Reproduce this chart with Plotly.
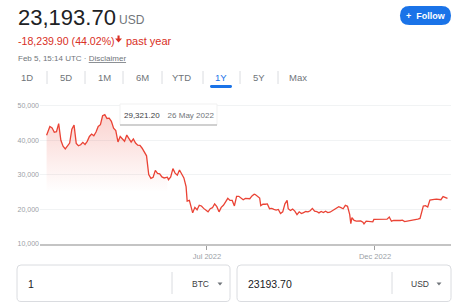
import plotly.graph_objects as go
from datetime import datetime

# ---------------- data ----------------
dates = [
    "2022-02-05", "2022-02-06", "2022-02-08", "2022-02-10", "2022-02-12", "2022-02-14", "2022-02-16",
    "2022-02-18", "2022-02-20", "2022-02-22", "2022-02-24", "2022-02-26", "2022-02-28", "2022-03-02",
    "2022-03-04", "2022-03-06", "2022-03-08", "2022-03-10", "2022-03-12", "2022-03-14", "2022-03-16",
    "2022-03-18", "2022-03-20", "2022-03-22", "2022-03-24", "2022-03-26", "2022-03-28", "2022-03-30",
    "2022-04-01", "2022-04-03", "2022-04-05", "2022-04-07", "2022-04-09", "2022-04-11", "2022-04-13",
    "2022-04-15", "2022-04-17", "2022-04-19", "2022-04-21", "2022-04-23", "2022-04-25", "2022-04-27",
    "2022-04-29", "2022-05-01", "2022-05-03", "2022-05-05", "2022-05-07", "2022-05-09", "2022-05-11",
    "2022-05-13", "2022-05-15", "2022-05-17", "2022-05-19", "2022-05-21", "2022-05-23", "2022-05-26",
    "2022-05-27", "2022-05-29", "2022-05-31", "2022-06-02", "2022-06-04", "2022-06-06", "2022-06-08",
    "2022-06-10", "2022-06-12", "2022-06-13", "2022-06-15", "2022-06-18", "2022-06-20", "2022-06-22",
    "2022-06-24", "2022-06-26", "2022-06-28", "2022-06-30", "2022-07-02", "2022-07-04", "2022-07-06",
    "2022-07-08", "2022-07-10", "2022-07-12", "2022-07-14", "2022-07-16", "2022-07-18", "2022-07-20",
    "2022-07-22", "2022-07-24", "2022-07-26", "2022-07-28", "2022-07-30", "2022-08-01", "2022-08-03",
    "2022-08-05", "2022-08-07", "2022-08-09", "2022-08-11", "2022-08-13", "2022-08-14", "2022-08-16",
    "2022-08-18", "2022-08-19", "2022-08-21", "2022-08-23", "2022-08-25", "2022-08-27", "2022-08-29",
    "2022-08-31", "2022-09-02", "2022-09-04", "2022-09-06", "2022-09-08", "2022-09-10", "2022-09-12",
    "2022-09-13", "2022-09-15", "2022-09-17", "2022-09-19", "2022-09-21", "2022-09-23", "2022-09-25",
    "2022-09-27", "2022-09-29", "2022-10-01", "2022-10-03", "2022-10-05", "2022-10-07", "2022-10-09",
    "2022-10-11", "2022-10-13", "2022-10-15", "2022-10-17", "2022-10-19", "2022-10-21", "2022-10-23",
    "2022-10-25", "2022-10-27", "2022-10-29", "2022-10-31", "2022-11-02", "2022-11-04", "2022-11-06",
    "2022-11-08", "2022-11-09", "2022-11-10", "2022-11-12", "2022-11-14", "2022-11-16", "2022-11-18",
    "2022-11-20", "2022-11-21", "2022-11-23", "2022-11-25", "2022-11-27", "2022-11-29", "2022-11-30",
    "2022-12-02", "2022-12-04", "2022-12-06", "2022-12-08", "2022-12-10", "2022-12-12", "2022-12-14",
    "2022-12-16", "2022-12-18", "2022-12-20", "2022-12-22", "2022-12-24", "2022-12-26", "2022-12-28",
    "2022-12-30", "2023-01-01", "2023-01-03", "2023-01-05", "2023-01-07", "2023-01-09", "2023-01-11",
    "2023-01-12", "2023-01-14", "2023-01-16", "2023-01-18", "2023-01-20", "2023-01-22", "2023-01-24",
    "2023-01-26", "2023-01-28", "2023-01-30", "2023-02-01", "2023-02-03", "2023-02-05",
]
prices = [
    41433.6, 42400, 44000, 43600, 42300, 42500, 44800,
    40000, 38300, 37500, 38300, 39200, 43200, 44400,
    39100, 38400, 38700, 39400, 38800, 39700, 41100,
    41800, 41300, 42400, 44000, 44500, 47100, 47400,
    46300, 46400, 45500, 43500, 42800, 39500, 41100,
    40500, 39700, 41500, 40500, 39500, 40400, 39200,
    38600, 38500, 37700, 36500, 35500, 30100, 29000,
    29300, 31300, 30400, 30300, 29400, 29100, 29321.2,
    28600, 29400, 31800, 30500, 29900, 31400, 30200,
    29100, 26600, 22400, 22600, 19000, 20600, 19900,
    21200, 21000, 20300, 19800, 19300, 20200, 20500,
    21600, 20800, 19300, 20600, 21200, 22400, 23200,
    22600, 22600, 21000, 23800, 23800, 23300, 22800,
    23200, 23200, 23100, 23900, 24400, 24300, 23900,
    23300, 21100, 21500, 21500, 21600, 20200, 20300,
    20000, 19800, 20000, 18800, 19300, 21600, 22600,
    20200, 19700, 20100, 19500, 18500, 19300, 18800,
    19100, 19400, 19300, 19600, 20300, 19500, 19400,
    19000, 19400, 19100, 19500, 19100, 19200, 19600,
    20100, 20300, 20800, 20500, 20200, 21200, 20900,
    18500, 15900, 17600, 16800, 16600, 16700, 16700,
    16300, 15800, 16600, 16500, 16500, 16400, 17100,
    17100, 17100, 17100, 17200, 17100, 17200, 17800,
    16600, 16800, 16900, 16800, 16800, 16900, 16500,
    16600, 16600, 16700, 16800, 16900, 17200, 17400,
    18800, 21000, 21100, 20700, 22700, 22700, 22900,
    23000, 23000, 22800, 23700, 23400, 23193.7,
]
y_ticks = [10000, 20000, 30000, 40000, 50000]
y_tick_labels = ["10,000", "20,000", "30,000", "40,000", "50,000"]
x_ticks = ["2022-07-01", "2022-12-01"]
x_tick_labels = ["Jul 2022", "Dec 2022"]
range_tabs = ["1D", "5D", "1M", "6M", "YTD", "1Y", "5Y", "Max"]
active_tab = "1Y"
hover_date = "2022-05-26"

# ---------------- derived values ----------------
last = prices[-1]
first = prices[0]
change = last - first
pct = abs(change) / first * 100
hover_idx = dates.index(hover_date)
hover_val = prices[hover_idx]
hover_label = datetime.strptime(hover_date, "%Y-%m-%d").strftime("%-d %b %Y")

# ---------------- geometry helpers (pixels -> paper) ----------------
W, H = 472, 306
L, R, T, B = 40, 21, 98, 62
PW, PH = W - L - R, H - T - B


def px(x):
    return (x - L) / PW


def py(y):
    return (H - B - y) / PH


def rrect(x0, y0, x1, y1, r):
    pts = [
        ("M", [(x0 + r, y0)]), ("L", [(x1 - r, y0)]), ("Q", [(x1, y0), (x1, y0 + r)]),
        ("L", [(x1, y1 - r)]), ("Q", [(x1, y1), (x1 - r, y1)]), ("L", [(x0 + r, y1)]),
        ("Q", [(x0, y1), (x0, y1 - r)]), ("L", [(x0, y0 + r)]), ("Q", [(x0, y0), (x0 + r, y0)]),
    ]
    s = ""
    for cmd, ps in pts:
        s += cmd + " " + " ".join(f"{px(a):.5f},{py(b):.5f}" for a, b in ps) + " "
    return s + "Z"


def poly(points):
    return "M " + " L ".join(f"{px(a):.5f},{py(b):.5f}" for a, b in points) + " Z"


FONT = "Arial, Liberation Sans, sans-serif"
RED = "#d93025"
LINE_RED = "#ea4335"
BLUE = "#1a73e8"
GREY = "#70757a"
DARK = "#202124"

fig = go.Figure()

# gradient fill up to hovered point
fig.add_trace(go.Scatter(
    x=dates[:hover_idx + 1], y=prices[:hover_idx + 1], mode="lines",
    line=dict(width=0, color="rgba(0,0,0,0)"), fill="tozeroy",
    fillgradient=dict(type="vertical",
                      colorscale=[[0, "rgba(234,67,53,0)"], [1, "rgba(234,67,53,0.24)"]],
                      start=25000, stop=48000),
    hoverinfo="skip", showlegend=False,
))
fig.add_trace(go.Scatter(
    x=dates, y=prices, mode="lines", line=dict(color=LINE_RED, width=1.3),
    showlegend=False, hoverinfo="skip",
))

shapes = []
ann = []


def text(x, y, s, size, color, xanchor="left", yanchor="middle", bold=False):
    ann.append(dict(x=px(x), y=py(y), xref="paper", yref="paper", text=(f"<b>{s}</b>" if bold else s),
                    showarrow=False, xanchor=xanchor, yanchor=yanchor,
                    font=dict(size=size, color=color, family=FONT)))


# header
text(16, 17, f"{last:,.2f}", 22, DARK)
text(117, 20, "USD", 12, GREY)
text(16, 40.5, f"{change:,.2f} ({pct:.2f}%)", 10.6, RED)
shapes.append(dict(type="path", xref="paper", yref="paper", line=dict(width=0), fillcolor=RED,
                   path=poly([(117.5, 35.5), (119.6, 35.5), (119.6, 38.6), (122, 38.6), (118.55, 42.4),
                              (115.1, 38.6), (117.5, 38.6)])))
text(124, 40.5, "past year", 11, RED)
text(16, 58, "Feb 5, 15:14 UTC · <u>Disclaimer</u>", 8, GREY)

# follow button
shapes.append(dict(type="path", path=rrect(400, 6, 451, 25, 9.5), xref="paper", yref="paper",
                   fillcolor=BLUE, line=dict(width=0)))
text(425.5, 15.5, "+  Follow", 9, "white", xanchor="center", bold=True)

# tabs
tab_x = [27, 66, 104, 142, 181, 221, 259, 298]
sep_x = [47, 85, 123, 162, 203, 240, 278]
for lab, x in zip(range_tabs, tab_x):
    text(x, 78, lab, 9.5, BLUE if lab == active_tab else GREY, xanchor="center")
for x in sep_x:
    shapes.append(dict(type="line", xref="paper", yref="paper", x0=px(x), x1=px(x), y0=py(71), y1=py(84),
                       line=dict(color="#dadce0", width=1)))
ax = tab_x[range_tabs.index(active_tab)]
shapes.append(dict(type="path", path=rrect(ax - 11, 85, ax + 11, 88, 1.4), xref="paper", yref="paper",
                   fillcolor=BLUE, line=dict(width=0)))

# hover tooltip
shapes.append(dict(type="rect", xref="paper", yref="paper", x0=px(120), x1=px(217), y0=py(104), y1=py(125),
                   fillcolor="white", line=dict(color="#f1f1f1", width=1)))
shapes.append(dict(type="line", xref="paper", yref="paper", x0=px(120), x1=px(217), y0=py(125), y1=py(125),
                   line=dict(color="#a8a8a8", width=1)))
text(168.5, 115.7,
     f"{hover_val:,.2f}\u2002\u2002<span style='color:{GREY}'>{hover_label}</span>",
     8, "#3c4043", xanchor="center")

# converter boxes
for (x0, x1, sx, val, cur, tx, cx) in [
    (17, 230, 172, "1", "BTC", 190, 220),
    (237, 451, 392, f"{last:.2f}", "USD", 409, 439),
]:
    shapes.append(dict(type="path", path=rrect(x0, 265, x1, 301.5, 4), xref="paper", yref="paper",
                       fillcolor="white", line=dict(color="#dadce0", width=1)))
    shapes.append(dict(type="line", xref="paper", yref="paper", x0=px(sx), x1=px(sx), y0=py(272), y1=py(294),
                       line=dict(color="#dadce0", width=1)))
    text(x0 + 9, 284, val, 10.5, DARK)
    text(tx, 283.5, cur, 8.5, "#3c4043")
    shapes.append(dict(type="path", xref="paper", yref="paper", fillcolor=GREY, line=dict(width=0),
                       path=poly([(cx - 2.5, 282.5), (cx + 2.5, 282.5), (cx, 285.5)])))

fig.update_layout(
    width=W, height=H, margin=dict(l=L, r=R, t=T, b=B),
    paper_bgcolor="white", plot_bgcolor="white",
    font=dict(family=FONT),
    shapes=shapes, annotations=ann, showlegend=False,
    xaxis=dict(
        range=["2022-01-30", "2023-02-08 05:00"], showgrid=False, zeroline=False,
        showline=True, linecolor="#c4c4c4", linewidth=2,
        tickvals=x_ticks, ticktext=x_tick_labels, ticks="outside", ticklen=4, tickcolor="#9e9e9e",
        tickfont=dict(size=7.5, color="#9aa0a6"),
    ),
    yaxis=dict(
        range=[10000, 52227], tickvals=y_ticks, ticktext=y_tick_labels,
        showgrid=True, gridcolor="#f1f3f4", gridwidth=1, zeroline=False, showline=False,
        tickfont=dict(size=7, color="#9aa0a6"), ticks="",
    ),
)

fig.write_html("out.html")
